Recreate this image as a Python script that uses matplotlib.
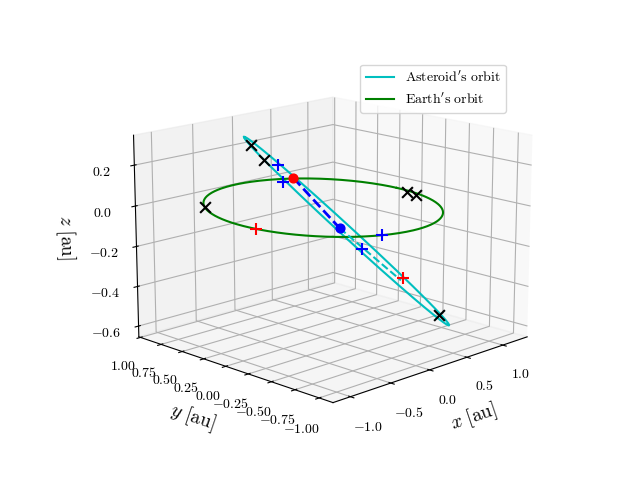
import numpy as np
import matplotlib
matplotlib.use("Agg")
import matplotlib.pyplot as plt

plt.rcParams['mathtext.fontset'] = 'cm'
plt.rcParams['font.family'] = 'serif'

# Earth orbit radius and asteroid orbit geometry (center, semi-axis vectors)
earth_radius = 1.0
ast_center = [0.15, -0.15, -0.125]
ast_u = [-0.61, 0.61, 0.455]
ast_v = [0.03, -0.01, 0.02]

red_dot = [-0.17, 0.17, 0.135]
blue_dot = [0.105, -0.105, -0.108]
cyan_end = [0.47, -0.47, -0.36]

blue_plus_x = [-0.26, -0.234, 0.24, -0.36]
blue_plus_y = [0.26, 0.234, -0.24, -0.93]
blue_plus_z = [0.195, 0.115, -0.206, 0.0]

red_plus_x = [-0.985, 0.485]
red_plus_y = [-0.14, -0.485]
red_plus_z = [0.0, -0.35]

black_x_x = [-0.42, -0.345, 0.70, -0.78, 0.94, 0.93]
black_x_y = [0.42, 0.345, -0.70, 0.62, -0.16, -0.26]
black_x_z = [0.29, 0.22, -0.53, 0.0, 0.0, 0.0]

xticks = [-1.0, -0.5, 0.0, 0.5, 1.0]
yticks = [-1.0, -0.75, -0.5, -0.25, 0.0, 0.25, 0.5, 0.75, 1.0]
zticks = [-0.6, -0.4, -0.2, 0.0, 0.2]

fig = plt.figure(figsize=(6.4, 4.8), dpi=100)
ax = fig.add_subplot(projection='3d')
ax.view_init(elev=15, azim=-135)
ax.set_box_aspect(None, zoom=1.17)

t = np.linspace(0, 2*np.pi, 400)
c, u, v = map(np.array, (ast_center, ast_u, ast_v))
pts = c[:, None] + u[:, None]*np.cos(t) + v[:, None]*np.sin(t)
ax.plot(pts[0], pts[1], pts[2], color='c', label=r"$\mathrm{Asteroid's\ orbit}$")
ax.plot(earth_radius*np.cos(t), earth_radius*np.sin(t), 0*t, color='g', label=r"$\mathrm{Earth's\ orbit}$")

ax.plot([red_dot[0], blue_dot[0]], [red_dot[1], blue_dot[1]], [red_dot[2], blue_dot[2]], 'b--', lw=2)
ax.plot([blue_dot[0], cyan_end[0]], [blue_dot[1], cyan_end[1]], [blue_dot[2], cyan_end[2]], '--', color='c', lw=1.5)
ax.scatter(*[[p] for p in red_dot], color='r', s=40, depthshade=False)
ax.scatter(*[[p] for p in blue_dot], color='b', s=40, depthshade=False)
ax.scatter(blue_plus_x, blue_plus_y, blue_plus_z, marker='+', color='b', s=70, depthshade=False)
ax.scatter(red_plus_x, red_plus_y, red_plus_z, marker='+', color='r', s=70, depthshade=False)
ax.scatter(black_x_x, black_x_y, black_x_z, marker='x', color='k', s=60, depthshade=False)

ax.set_xlim(-1.21, 1.35)
ax.set_ylim(-1.14, 1.02)
ax.set_zlim(-0.655, 0.345)
ax.set_xticks(xticks)
ax.set_xticklabels([f'${x:.1f}$' for x in xticks])
ax.set_yticks(yticks)
ax.set_yticklabels([f'${y:.2f}$' for y in yticks])
ax.set_zticks(zticks)
ax.set_zticklabels([f'${z:.1f}$' for z in zticks])
ax.set_xlabel(r'$x\ \mathrm{[au]}$', fontsize=14)
ax.set_ylabel(r'$y\ \mathrm{[au]}$', fontsize=14)
ax.set_zlabel(r'$z\ \mathrm{[au]}$', fontsize=14)
ax.legend(loc='upper right')
fig.savefig('out.png')
